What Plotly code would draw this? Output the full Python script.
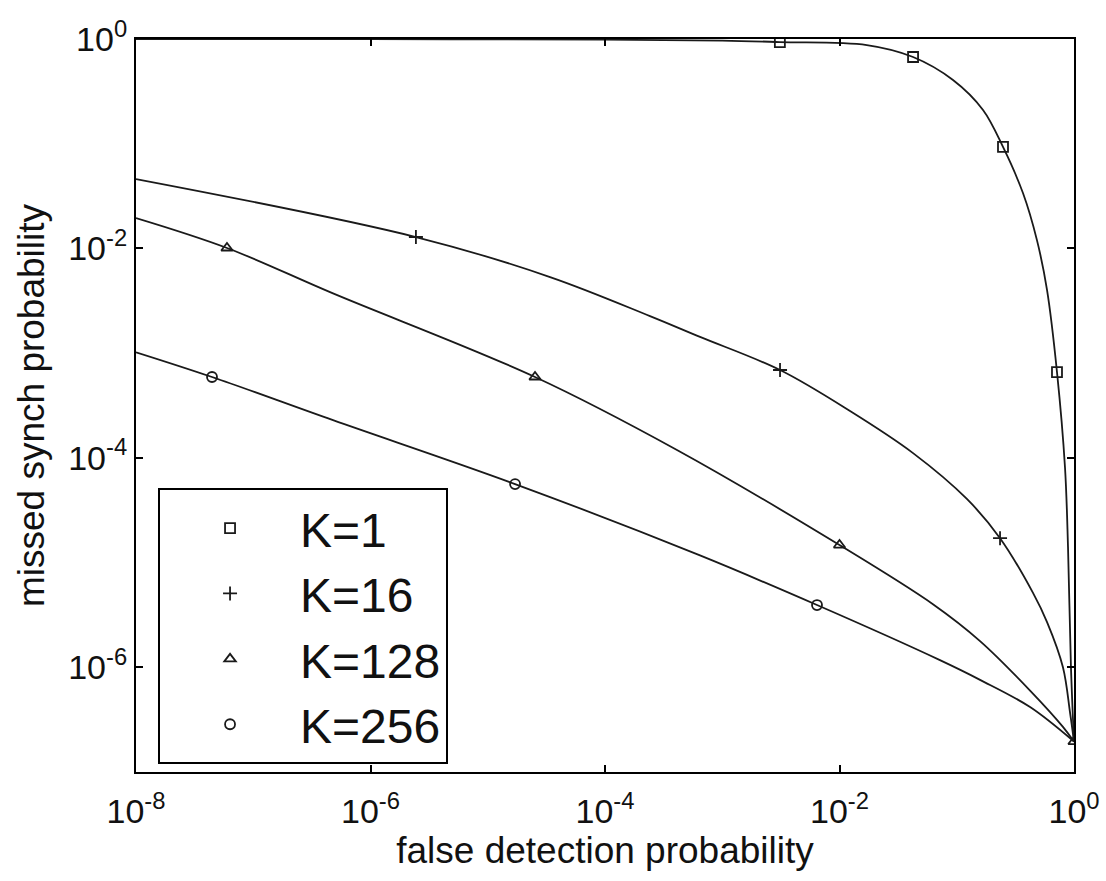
import plotly.graph_objects as go

# ---------------- data ----------------
SERIES_NAMES = ["K=1", "K=16", "K=128", "K=256"]

# curve points (false detection probability, missed synch probability)
K1_X = [1e-8, 1e-6, 1e-4, 1e-3, 3.1e-3, 0.0171, 0.0424, 0.0929, 0.1675, 0.248,
        0.367, 0.483, 0.589, 0.716, 0.838, 0.889, 0.942, 1.0]
K1_Y = [0.9995, 0.997, 0.985, 0.967, 0.935, 0.875, 0.673, 0.406, 0.210, 0.0931,
        0.0338, 0.0120, 4.0e-3, 6.6e-4, 8.1e-5, 1.41e-5, 1.0e-6, 1.95e-7]

K16_X = [1e-8, 2.44e-6, 3.40e-5, 2.42e-4, 6.46e-4, 3.11e-3, 0.0123, 0.0424,
         0.122, 0.234, 0.447, 0.589, 0.805, 0.925, 1.0]
K16_Y = [0.0460, 0.01285, 5.33e-3, 2.26e-3, 1.43e-3, 6.90e-4, 2.80e-4, 1.11e-4,
         4.05e-5, 1.71e-5, 5.13e-6, 2.7e-6, 1.0e-6, 3.7e-7, 1.95e-7]

K128_X = [1e-8, 5.97e-8, 4.79e-7, 2.53e-5, 4.11e-4, 0.01, 0.0631, 0.158,
          0.422, 0.805, 1.0]
K128_Y = [0.0195, 0.0101, 3.72e-3, 5.92e-4, 1.19e-4, 1.47e-5, 3.98e-6, 1.78e-6,
          6.0e-7, 2.7e-7, 1.95e-7]

K256_X = [1e-8, 4.45e-8, 4.79e-7, 1.71e-5, 6.46e-4, 6.43e-3, 0.0719, 0.158,
          0.422, 1.0]
K256_Y = [1.02e-3, 5.92e-4, 2.29e-4, 5.62e-5, 1.17e-5, 3.93e-6, 1.17e-6, 7.59e-7,
          4.17e-7, 1.95e-7]

# marker positions along each curve
K1_MX = [3.1e-3, 0.0424, 0.248, 0.716]
K1_MY = [0.935, 0.673, 0.0931, 6.6e-4]
K16_MX = [2.44e-6, 3.11e-3, 0.234]
K16_MY = [0.01285, 6.90e-4, 1.71e-5]
K128_MX = [5.97e-8, 2.53e-5, 0.01, 1.0]
K128_MY = [0.0101, 5.92e-4, 1.47e-5, 1.95e-7]
K256_MX = [4.45e-8, 1.71e-5, 6.43e-3]
K256_MY = [5.92e-4, 5.62e-5, 3.93e-6]

X_TICK_VALUES = [1e-8, 1e-6, 1e-4, 1e-2, 1]
X_TICK_LABELS = ["10<sup>-8</sup>", "10<sup>-6</sup>", "10<sup>-4</sup>",
                 "10<sup>-2</sup>", "10<sup>0</sup>"]
Y_TICK_VALUES = [1e-6, 1e-4, 1e-2, 1]
Y_TICK_LABELS = ["10<sup>-6</sup>", "10<sup>-4</sup>", "10<sup>-2</sup>",
                 "10<sup>0</sup>"]

X_TITLE = "false detection probability"
Y_TITLE = "missed synch probability"

# ---------------- figure ----------------
FONT = "Liberation Sans, Arial, Helvetica, sans-serif"
LINE_COLOR = "#1a1a1a"

curves = [(K1_X, K1_Y), (K16_X, K16_Y), (K128_X, K128_Y), (K256_X, K256_Y)]
marks = [(K1_MX, K1_MY), (K16_MX, K16_MY), (K128_MX, K128_MY), (K256_MX, K256_MY)]
symbols = ["square-open", "cross-thin-open", "triangle-up-open", "circle-open"]

fig = go.Figure()
for (cx, cy) in curves:
    fig.add_trace(go.Scatter(
        x=cx, y=cy, mode="lines", showlegend=False, hoverinfo="skip",
        line=dict(color=LINE_COLOR, width=1.8, shape="spline", smoothing=1.0),
    ))
for name, (mx, my), sym in zip(SERIES_NAMES, marks, symbols):
    fig.add_trace(go.Scatter(
        x=mx, y=my, mode="markers", name=name,
        marker=dict(symbol=sym, size=10, color=LINE_COLOR,
                    line=dict(color=LINE_COLOR, width=1.8)),
    ))

axis_common = dict(
    type="log", showline=True, linecolor="black", linewidth=2, mirror="ticks",
    ticks="inside", ticklen=7, tickwidth=1.5, tickcolor="black",
    showgrid=False, zeroline=False, automargin=False,
    tickfont=dict(family=FONT, size=34, color="#111"),
)

fig.update_layout(
    width=1106, height=881,
    margin=dict(l=136, r=32, t=39, b=109),
    paper_bgcolor="white", plot_bgcolor="white",
    font=dict(family=FONT, color="#111"),
    xaxis=dict(range=[-8, 0], tickvals=X_TICK_VALUES, ticktext=X_TICK_LABELS,
               ticklabelstandoff=8,
               title=dict(text=X_TITLE, font=dict(family=FONT, size=37), standoff=6),
               **axis_common),
    yaxis=dict(range=[-7, 0], tickvals=Y_TICK_VALUES, ticktext=Y_TICK_LABELS,
               title=dict(text=Y_TITLE, font=dict(family=FONT, size=37), standoff=12),
               **axis_common),
    legend=dict(
        x=0.0235, y=0.387, xanchor="left", yanchor="top",
        bgcolor="white", bordercolor="black", borderwidth=2,
        font=dict(family=FONT, size=48, color="#111"),
        itemwidth=130, tracegroupgap=0,
    ),
    showlegend=True,
)

fig.write_html("out.html", config={"displayModeBar": False},
               post_script="document.body.style.margin='0';")
